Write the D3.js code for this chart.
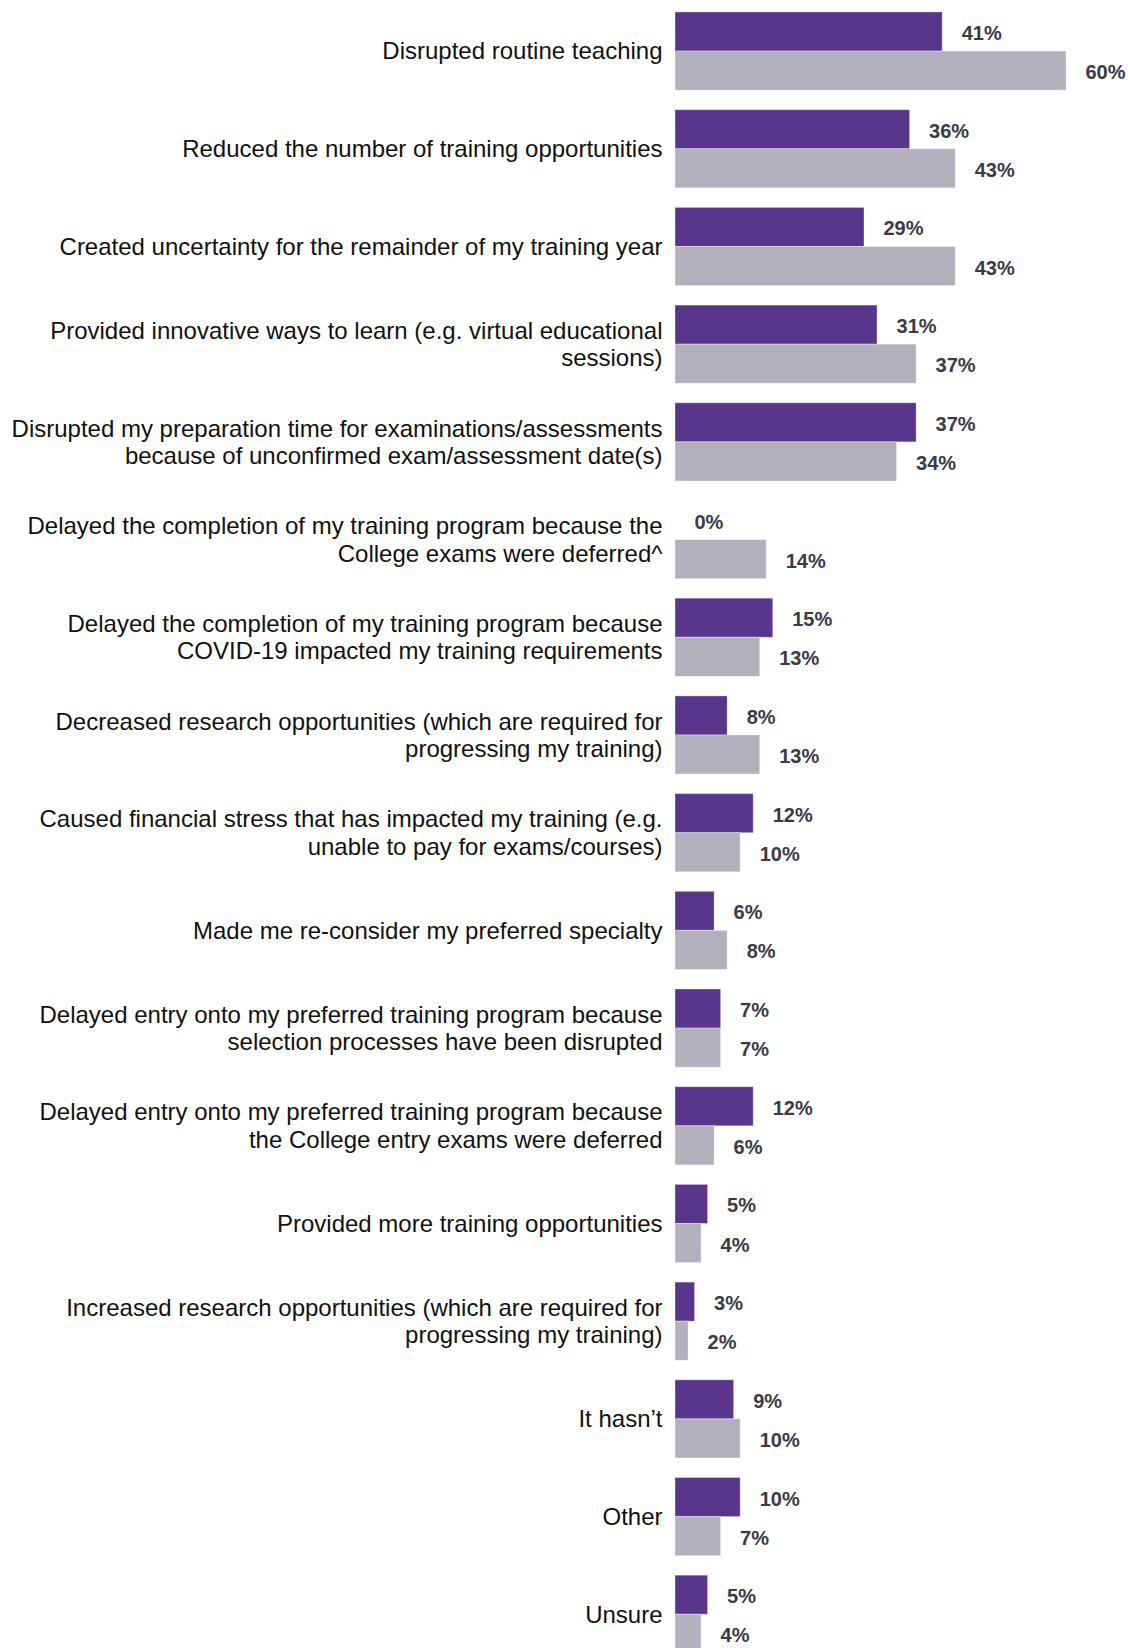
<!DOCTYPE html>
<html>
<head>
<meta charset="utf-8">
<script src="https://cdn.jsdelivr.net/npm/d3@7"></script>
<style>
  html, body { margin: 0; padding: 0; background: #ffffff; }
  svg { display: block; }
</style>
</head>
<body>
<svg id="chart" width="1128" height="1648"></svg>
<script>
// ---- Data ----
const categories = [
  "Disrupted routine teaching",
  "Reduced the number of training opportunities",
  "Created uncertainty for the remainder of my training year",
  "Provided innovative ways to learn (e.g. virtual educational\nsessions)",
  "Disrupted my preparation time for examinations/assessments\nbecause of unconfirmed exam/assessment date(s)",
  "Delayed the completion of my training program because the\nCollege exams were deferred^",
  "Delayed the completion of my training program because\nCOVID-19 impacted my training requirements",
  "Decreased research opportunities (which are required for\nprogressing my training)",
  "Caused financial stress that has impacted my training (e.g.\nunable to pay for exams/courses)",
  "Made me re-consider my preferred specialty",
  "Delayed entry onto my preferred training program because\nselection processes have been disrupted",
  "Delayed entry onto my preferred training program because\nthe College entry exams were deferred",
  "Provided more training opportunities",
  "Increased research opportunities (which are required for\nprogressing my training)",
  "It hasn\u2019t",
  "Other",
  "Unsure"
];
const seriesNames = ["Series 1", "Series 2"];
const series1Values = [41, 36, 29, 31, 37, 0, 15, 8, 12, 6, 7, 12, 5, 3, 9, 10, 5];
const series2Values = [60, 43, 43, 37, 34, 14, 13, 13, 10, 8, 7, 6, 4, 2, 10, 7, 4];
const seriesColors = ["#59358c", "#b1b0bc"];

// ---- Layout ----
const svg = d3.select("#chart");
const x0 = 675;
const step = 97.7;
const pInner = 0.2;
const yTop = 12;

const x = d3.scaleLinear().domain([0, 60]).range([x0, x0 + 391]);
const y = d3.scaleBand()
  .domain(categories)
  .range([yTop, yTop + step * (categories.length - pInner)])
  .paddingInner(pInner)
  .paddingOuter(0);
const ySub = d3.scaleBand().domain(seriesNames).range([0, y.bandwidth()]).padding(0);

const rows = categories.map((c, i) => ({
  cat: c,
  vals: [
    { s: seriesNames[0], v: series1Values[i], color: seriesColors[0] },
    { s: seriesNames[1], v: series2Values[i], color: seriesColors[1] }
  ]
}));

const g = svg.append("g");

const grp = g.selectAll("g.row").data(rows).join("g")
  .attr("class", "row")
  .attr("transform", d => `translate(0,${y(d.cat)})`);

grp.selectAll("rect").data(d => d.vals).join("rect")
  .attr("x", x(0))
  .attr("y", d => ySub(d.s))
  .attr("width", d => x(d.v) - x(0))
  .attr("height", ySub.bandwidth())
  .attr("fill", d => d.color)
  .attr("stroke", "#ffffff")
  .attr("stroke-opacity", 0.35)
  .attr("stroke-width", 1);

grp.selectAll("text.val").data(d => d.vals).join("text")
  .attr("class", "val")
  .attr("x", d => x(d.v) + 19.5)
  .attr("y", d => ySub(d.s) + ySub.bandwidth() / 2 + 1.5)
  .attr("dy", "0.35em")
  .attr("font-family", "'Liberation Sans', Arial, sans-serif")
  .attr("font-weight", "bold")
  .attr("font-size", "20px")
  .attr("fill", "#3b3a48")
  .text(d => d.v + "%");

// Category labels (right-aligned, multi-line)
const lineH = 27.5;
grp.append("text")
  .attr("class", "cat")
  .attr("text-anchor", "end")
  .attr("font-family", "'Liberation Sans', Arial, sans-serif")
  .attr("font-size", "24px")
  .attr("fill", "#111111")
  .each(function(d) {
    const lines = d.cat.split("\n");
    const t = d3.select(this);
    const cy = y.bandwidth() / 2;
    lines.forEach((ln, i) => {
      t.append("tspan")
        .attr("x", 662.5)
        .attr("y", cy + (i - (lines.length - 1) / 2) * lineH)
        .attr("dy", "0.35em")
        .text(ln);
    });
  });
</script>
</body>
</html>
